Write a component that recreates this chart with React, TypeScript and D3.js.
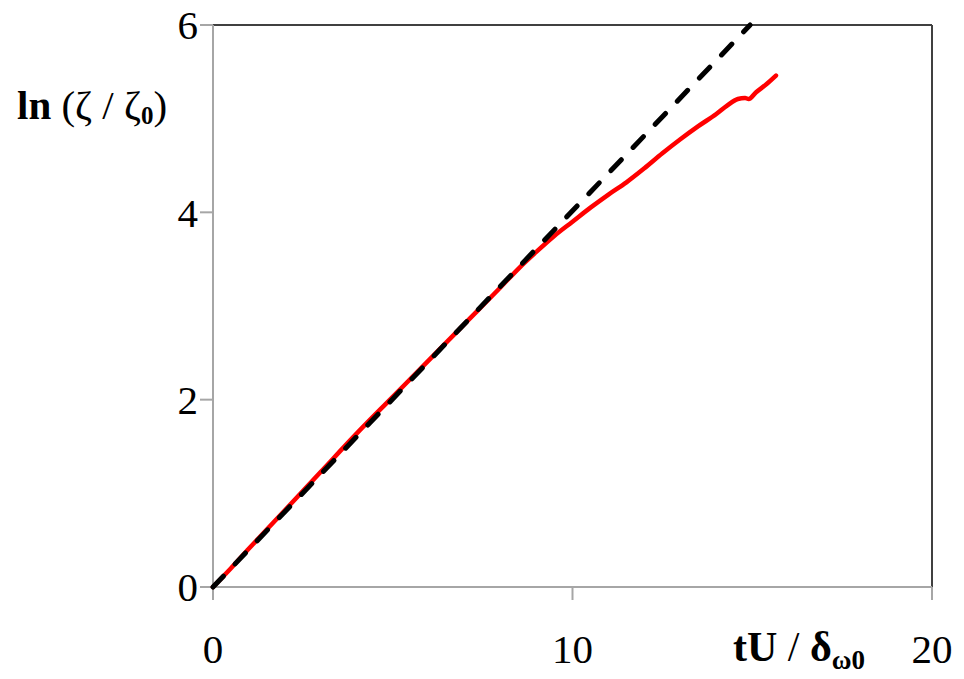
import React from "react";
import * as d3 from "d3";

const xTicks = [0, 10, 20];
const yTicks = [0, 2, 4, 6];
const redX = [0, 0.5, 1, 2, 3, 4, 5, 6, 7, 8, 8.5, 9, 9.5, 10, 10.5, 11, 11.5, 12, 12.5, 13, 13.5, 14, 14.3, 14.6, 14.8, 14.9, 15.1, 15.4, 15.66];
const redY = [0, 0.2, 0.41, 0.82, 1.23, 1.64, 2.03, 2.42, 2.81, 3.2, 3.4, 3.58, 3.75, 3.9, 4.05, 4.19, 4.32, 4.47, 4.63, 4.78, 4.92, 5.05, 5.14, 5.21, 5.22, 5.21, 5.28, 5.37, 5.46];
const dashX = [0, 14.94];
const dashY = [0, 6];

export default function App() {
  const W = 964, H = 679;
  const x = d3.scaleLinear().domain([0, 20]).range([213, 932]);
  const y = d3.scaleLinear().domain([0, 6]).range([587, 25]);
  const line = d3.line<[number, number]>().x(d => x(d[0])).y(d => y(d[1])).curve(d3.curveMonotoneX);
  const red = line(redX.map((v, i) => [v, redY[i]] as [number, number])) || "";
  const dash = d3.line<[number, number]>().x(d => x(d[0])).y(d => y(d[1]))(dashX.map((v, i) => [v, dashY[i]] as [number, number])) || "";
  const serif = "'Liberation Serif', 'Times New Roman', serif";
  return (
    <svg width={W} height={H} style={{ position: "absolute", left: 0, top: 0 }} fontFamily={serif}>
      <rect width={W} height={H} fill="#fff" />
      <line x1={x(0)} x2={x(20)} y1={y(6)} y2={y(6)} stroke="#404040" strokeWidth={2} />
      <line x1={x(20)} x2={x(20)} y1={y(6)} y2={y(0)} stroke="#404040" strokeWidth={2} />
      <line x1={x(0)} x2={x(0)} y1={y(6)} y2={y(0) + 13} stroke="#a6a6a6" strokeWidth={2} />
      <line x1={x(0) - 13} x2={x(20)} y1={y(0)} y2={y(0)} stroke="#a6a6a6" strokeWidth={2} />
      {yTicks.map(t => (
        <g key={"y" + t}>
          <line x1={x(0) - 13} x2={x(0)} y1={y(t)} y2={y(t)} stroke="#a6a6a6" strokeWidth={2} />
          <text x={198} y={y(t)} dy="0.35em" textAnchor="end" fontSize={41}>{t}</text>
        </g>
      ))}
      {xTicks.map(t => (
        <g key={"x" + t}>
          <line x1={x(t)} x2={x(t)} y1={y(0)} y2={y(0) + 13} stroke="#a6a6a6" strokeWidth={2} />
          <text x={x(t)} y={663} textAnchor="middle" fontSize={41}>{t}</text>
        </g>
      ))}
      <path d={red} fill="none" stroke="#ff0000" strokeWidth={4.5} strokeLinejoin="round" strokeLinecap="round" />
      <path d={dash} fill="none" stroke="#000" strokeWidth={5} strokeDasharray="15 17" strokeLinecap="round" />
      <text x={17} y={119} fontSize={41}>
        <tspan fontWeight="bold">ln</tspan>
        <tspan> (ζ / ζ</tspan>
        <tspan fontWeight="bold" fontSize={25} dy={5}>0</tspan>
        <tspan dy={-5}>)</tspan>
      </text>
      <text x={733} y={661} fontSize={42}>
        <tspan fontWeight="bold">tU</tspan>
        <tspan> / </tspan>
        <tspan fontWeight="bold">δ</tspan>
        <tspan fontWeight="bold" fontSize={27} dy={8}>ω0</tspan>
      </text>
    </svg>
  );
}
